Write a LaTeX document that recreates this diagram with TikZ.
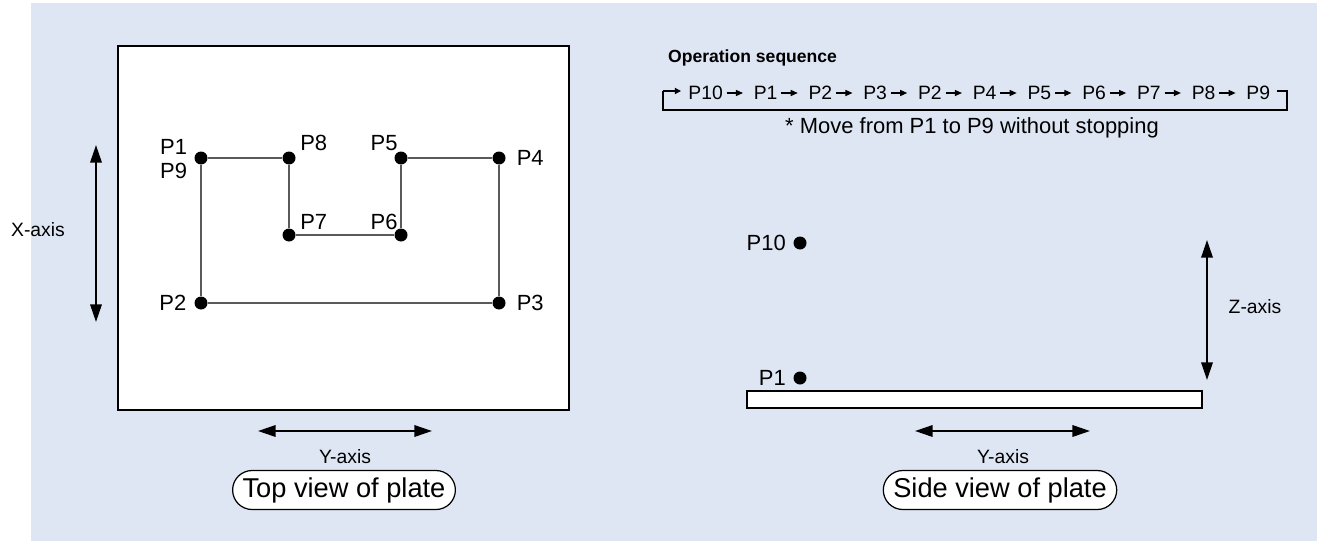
\documentclass[tikz,border=0pt]{standalone}
\usepackage{fontspec}
\setmainfont{Liberation Sans}
\usetikzlibrary{arrows.meta,positioning,shapes.misc}
\definecolor{panel}{HTML}{DFE6F3}
\definecolor{pathgray}{HTML}{5A5A5A}

\begin{document}
\begin{tikzpicture}[x=0.02cm, y=-0.02cm,
  every node/.style={font=\fontsize{12.5}{14}\selectfont, inner sep=1pt},
  dot/.style={circle, fill=black, inner sep=0pt, minimum size=0.26cm},
  axislbl/.style={font=\fontsize{11}{13}\selectfont},
  axis/.style={{Triangle[width=6.5pt,length=10pt]}-{Triangle[width=6.5pt,length=10pt]}, line width=1.1pt},
  route/.style={draw=pathgray, line width=0.8pt},
  pill/.style={draw, fill=white, rounded rectangle, line width=0.7pt,
               font=\fontsize{15.5}{17}\selectfont, minimum height=0.78cm, inner xsep=3pt},
  plate/.style={draw, fill=white, line width=1.1pt},
  seqlbl/.style={font=\fontsize{11}{13}\selectfont, inner sep=0pt},
  seqarrow/.style={-{Triangle[width=3.5pt,length=4pt]}, line width=0.6pt,
                   shorten <=2pt, shorten >=6pt}
]
\useasboundingbox (0,0) rectangle (1317,541);
\fill[panel] (31,3) rectangle (1317,541);

% top view
\draw[plate] (118,46) rectangle (569,410);

\node[dot] (p1) at (201,158) {};
\node[dot] (p8) at (289,158) {};
\node[dot] (p5) at (401,158) {};
\node[dot] (p4) at (499,158) {};
\node[dot] (p7) at (289,235) {};
\node[dot] (p6) at (401,235) {};
\node[dot] (p2) at (201,303) {};
\node[dot] (p3) at (499,303) {};

\draw[route] (p1) -- (p8) -- (p7) -- (p6) -- (p5) -- (p4) -- (p3) -- (p2) -- (p1);

\node[above left=-2pt and 4pt of p1]  (p1lbl) {P1};
\node[below left=-1pt and 4pt of p1]  (p9lbl) {P9};
\node[above right=0pt and 2.5pt of p8] (p8lbl) {P8};
\node[above left=0pt and -2pt of p5]  (p5lbl) {P5};
\node[right=5pt of p4]                (p4lbl) {P4};
\node[above right=-1pt and 2.5pt of p7] (p7lbl) {P7};
\node[above left=-1pt and -2pt of p6] (p6lbl) {P6};
\node[left=3.3pt of p2]               (p2lbl) {P2};
\node[right=5pt of p3]                (p3lbl) {P3};

\coordinate (xtop) at (96,145);
\coordinate (xbot) at (96,322);
\draw[axis] (xtop) -- (xbot);
\node[axislbl] (xlbl) at (38,230) {X-axis};

\coordinate (ytl) at (258,431);
\coordinate (ytr) at (432,431);
\draw[axis] (ytl) -- (ytr);
\node[axislbl] (ytlbl) at (345,457) {Y-axis};
\node[pill] (topview) at (344,490) {Top view of plate};

% operation sequence
\node[font=\bfseries\fontsize{10}{12}\selectfont, anchor=west] (optitle) at (666,58) {Operation sequence};
\node[seqlbl, anchor=west] (q1) at (688,93) {P10};
\node[seqlbl, right=17.3pt of q1]  (q2)  {P1};
\node[seqlbl, right=17.3pt of q2]  (q3)  {P2};
\node[seqlbl, right=17.3pt of q3]  (q4)  {P3};
\node[seqlbl, right=17.3pt of q4]  (q5)  {P2};
\node[seqlbl, right=17.3pt of q5]  (q6)  {P4};
\node[seqlbl, right=17.3pt of q6]  (q7)  {P5};
\node[seqlbl, right=17.3pt of q7]  (q8)  {P6};
\node[seqlbl, right=17.3pt of q8]  (q9)  {P7};
\node[seqlbl, right=17.3pt of q9]  (q10) {P8};
\node[seqlbl, right=17.3pt of q10] (q11) {P9};
\draw[seqarrow] (q1) -- (q2);
\draw[seqarrow] (q2) -- (q3);
\draw[seqarrow] (q3) -- (q4);
\draw[seqarrow] (q4) -- (q5);
\draw[seqarrow] (q5) -- (q6);
\draw[seqarrow] (q6) -- (q7);
\draw[seqarrow] (q7) -- (q8);
\draw[seqarrow] (q8) -- (q9);
\draw[seqarrow] (q9) -- (q10);
\draw[seqarrow] (q10) -- (q11);

\coordinate (bl) at (663,110);
\coordinate (br) at (1287,110);
\draw[line width=0.7pt] (1277,91) -- (br |- 0,91) -- (br) -- (bl) -- (bl |- 0,91);
\draw[line width=0.7pt, -{Triangle[width=3.5pt,length=3.5pt]}] (bl |- 0,91) -- (681,91);
\node[font=\fontsize{12.5}{14}\selectfont] (note) at (972,128) {* Move from P1 to P9 without stopping};

% side view
\draw[plate] (747,391) rectangle (1202,408);
\node[dot] (s10) at (800,243) {};
\node[dot] (s1)  at (800,378) {};
\node[left=3pt of s10] (s10lbl) {P10};
\node[left=3pt of s1]  (s1lbl)  {P1};

\coordinate (ztop) at (1207,240);
\coordinate (zbot) at (1207,380);
\draw[axis] (ztop) -- (zbot);
\node[axislbl] (zlbl) at (1255,307) {Z-axis};

\coordinate (ysl) at (915,431);
\coordinate (ysr) at (1090,431);
\draw[axis] (ysl) -- (ysr);
\node[axislbl] (yslbl) at (1003,457) {Y-axis};
\node[pill] (sideview) at (1000,490) {Side view of plate};
\end{tikzpicture}
\end{document}
